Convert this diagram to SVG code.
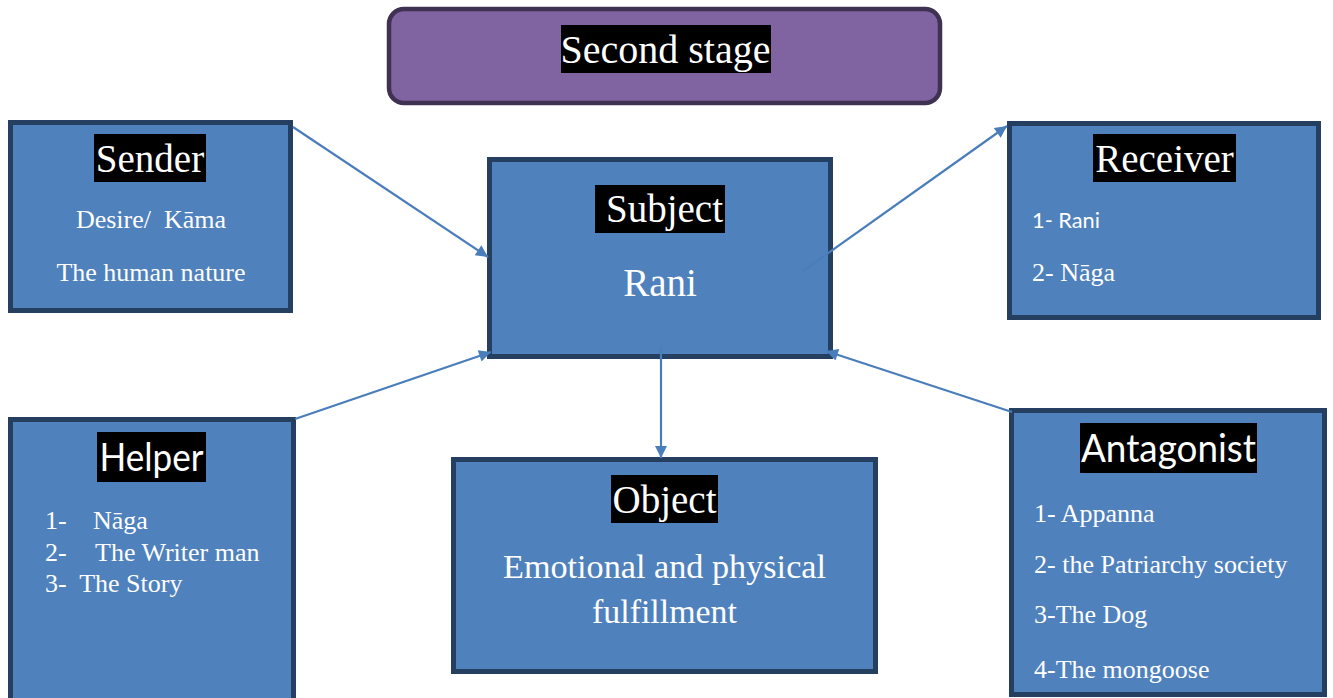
<svg xmlns="http://www.w3.org/2000/svg" width="1333" height="698" viewBox="0 0 1333 698">
  <defs>
    <marker id="arr" viewBox="0 0 10 10" refX="10" refY="5" markerWidth="15" markerHeight="12" markerUnits="userSpaceOnUse" orient="auto">
      <path d="M0,0 L10,5 L0,10 z" fill="#4a7ebb"/>
    </marker>
  </defs>
  <style>
    .box { fill: #4f81bd; stroke: #243f60; stroke-width: 5; }
    .hl { fill: #000000; }
    .title { font-family: "Liberation Serif", "Times New Roman", serif; font-size: 39px; fill: #ffffff; text-anchor: middle; }
    .stitle { font-family: Lato, "Liberation Sans", sans-serif; font-size: 38px; fill: #ffffff; text-anchor: middle; }
    .body { font-family: "Liberation Serif", "Times New Roman", serif; font-size: 26px; fill: #ffffff; }
    .mid { text-anchor: middle; }
    .conn { stroke: #4a7ebb; stroke-width: 2.2; fill: none; }
  </style>

  <rect width="1333" height="698" fill="#ffffff"/>

  <g id="stage">
    <rect x="389" y="9" width="551" height="94" rx="15" ry="15" fill="#8064a2" stroke="#3f3151" stroke-width="4.5"/>
    <rect class="hl" x="561" y="25" width="210" height="48"/>
    <text class="title" x="665.5" y="63" style="font-size:40px">Second stage</text>
  </g>

  <g id="sender">
    <rect class="box" x="10.5" y="122.5" width="280" height="188"/>
    <rect class="hl" x="94" y="134" width="112" height="48"/>
    <text class="title" x="150" y="172">Sender</text>
    <text class="body mid" x="151" y="228" xml:space="preserve">Desire/  Kāma</text>
    <text class="body mid" x="151" y="281">The human nature</text>
  </g>

  <g id="subject">
    <rect class="box" x="489.5" y="159.5" width="341" height="197"/>
    <rect class="hl" x="595" y="185" width="130" height="48"/>
    <text class="title" x="664.5" y="222">Subject</text>
    <text class="title" x="660" y="296">Rani</text>
  </g>

  <g id="receiver">
    <rect class="box" x="1009.5" y="123.5" width="309" height="194"/>
    <rect class="hl" x="1093" y="134" width="143" height="48"/>
    <text class="title" x="1164.5" y="172">Receiver</text>
    <text x="1032" y="228" font-family="Lato, 'Liberation Sans', sans-serif" font-size="22" fill="#ffffff" textLength="68" lengthAdjust="spacingAndGlyphs">1- Rani</text>
    <text class="body" x="1032" y="281">2- Nāga</text>
  </g>

  <g id="helper">
    <rect class="box" x="10.5" y="419.5" width="283" height="283"/>
    <rect class="hl" x="97" y="432" width="109" height="50"/>
    <text class="stitle" x="151.5" y="471" textLength="104" lengthAdjust="spacingAndGlyphs">Helper</text>
    <text class="body" x="45" y="529">1-</text>
    <text class="body" x="93" y="529">Nāga</text>
    <text class="body" x="45" y="561">2-</text>
    <text class="body" x="95" y="561">The Writer man</text>
    <text class="body" x="45" y="592" xml:space="preserve">3-  The Story</text>
  </g>

  <g id="object">
    <rect class="box" x="453.5" y="459.5" width="422" height="212"/>
    <rect class="hl" x="611" y="475" width="107" height="48"/>
    <text class="title" x="664.5" y="513">Object</text>
    <text class="body mid" x="664.5" y="578" style="font-size:34px" textLength="323" lengthAdjust="spacingAndGlyphs">Emotional and physical</text>
    <text class="body mid" x="664.5" y="623" style="font-size:34px" textLength="145" lengthAdjust="spacingAndGlyphs">fulfillment</text>
  </g>

  <g id="antagonist">
    <rect class="box" x="1011.5" y="410.5" width="313" height="284"/>
    <rect class="hl" x="1080" y="423" width="177" height="50"/>
    <text class="stitle" x="1168.5" y="462" textLength="175" lengthAdjust="spacingAndGlyphs">Antagonist</text>
    <text class="body" x="1034" y="522">1- Appanna</text>
    <text class="body" x="1034" y="573">2- the Patriarchy society</text>
    <text class="body" x="1034" y="623">3-The Dog</text>
    <text class="body" x="1034" y="678">4-The mongoose</text>
  </g>

  <g id="connectors">
    <line class="conn" x1="293" y1="127" x2="488" y2="257" marker-end="url(#arr)"/>
    <line class="conn" x1="803" y1="271" x2="1007" y2="126" marker-end="url(#arr)"/>
    <line class="conn" x1="295" y1="419" x2="491" y2="352" marker-end="url(#arr)"/>
    <line class="conn" x1="1012" y1="412" x2="826" y2="351" marker-end="url(#arr)"/>
    <line class="conn" x1="661" y1="346" x2="661" y2="458" marker-end="url(#arr)"/>
  </g>
</svg>
